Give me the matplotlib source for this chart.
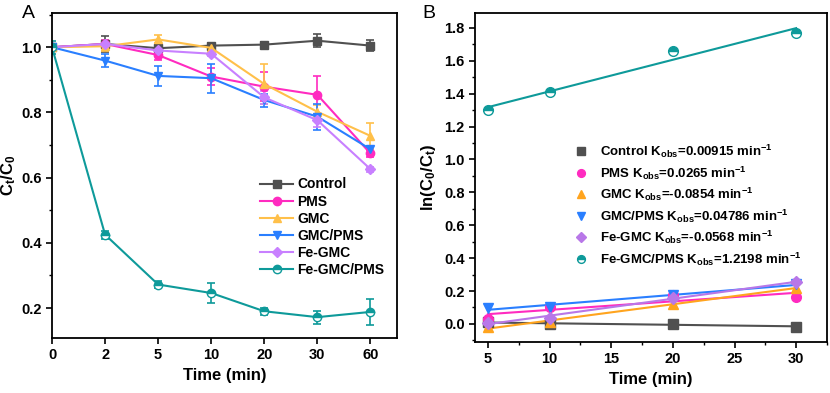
import numpy as np
import matplotlib
matplotlib.use('Agg')
import matplotlib.pyplot as plt
from matplotlib.ticker import MultipleLocator

plt.rcParams['font.family'] = ['Liberation Sans', 'DejaVu Sans']
plt.rcParams['font.weight'] = 'bold'
plt.rcParams['mathtext.fontset'] = 'custom'
plt.rcParams['mathtext.rm'] = 'Liberation Sans:bold'
plt.rcParams['mathtext.it'] = 'Liberation Sans:bold'
plt.rcParams['mathtext.bf'] = 'Liberation Sans:bold'

# ---- panel A data ----
time_labels = ['0', '2', '5', '10', '20', '30', '60']
names = ['Control', 'PMS', 'GMC', 'GMC/PMS', 'Fe-GMC', 'Fe-GMC/PMS']
control = [1.0, 1.010, 0.997, 1.005, 1.008, 1.020, 1.005]
control_err = [0.0, 0.025, 0.012, 0.008, 0.008, 0.020, 0.018]
pms = [1.0, 1.010, 0.976, 0.910, 0.879, 0.854, 0.674]
pms_err = [0.0, 0.012, 0.015, 0.025, 0.045, 0.058, 0.010]
gmc = [1.0, 1.003, 1.024, 0.998, 0.887, 0.802, 0.728]
gmc_err = [0.0, 0.015, 0.012, 0.008, 0.062, 0.020, 0.040]
gmc_pms = [1.0, 0.959, 0.912, 0.905, 0.838, 0.787, 0.687]
gmc_pms_err = [0.0, 0.020, 0.030, 0.045, 0.020, 0.040, 0.010]
fe_gmc = [1.0, 1.010, 0.990, 0.980, 0.846, 0.776, 0.626]
fe_gmc_err = [0.0, 0.010, 0.010, 0.008, 0.020, 0.020, 0.008]
fe_gmc_pms = [1.0, 0.425, 0.272, 0.246, 0.190, 0.172, 0.188]
fe_gmc_pms_err = [0.02, 0.012, 0.010, 0.030, 0.010, 0.020, 0.040]

# ---- panel B data ----
t_fit = [5, 10, 20, 30]
b_control = [0.010, 0.000, -0.002, -0.016]
b_pms = [0.028, 0.105, 0.176, 0.162]
b_gmc = [-0.020, 0.010, 0.120, 0.220]
b_gmc_pms = [0.095, 0.105, 0.175, 0.240]
b_fe_gmc = [0.008, 0.035, 0.160, 0.255]
b_fe_gmc_pms = [1.300, 1.408, 1.661, 1.766]
kobs = ['0.00915', '0.0265', '-0.0854', '0.04786', '-0.0568', '1.2198']

colors_a = ['#505050', '#FF2BC0', '#FFC04A', '#2A7FFF', '#C880FF', '#0E9A9A']
colors_b = ['#505050', '#FF2BC0', '#FFA41E', '#2A7FFF', '#B877E8', '#0E9A9A']
markers = ['s', 'o', '^', 'v', 'D', 'o']

fig = plt.figure(figsize=(8.3, 3.93), dpi=100)
axA = fig.add_axes([52/830, 55/393, 345/830, 325/393])
axB = fig.add_axes([475/830, 51/393, 352/830, 329/393])

seriesA = [control, pms, gmc, gmc_pms, fe_gmc, fe_gmc_pms]
errsA = [control_err, pms_err, gmc_err, gmc_pms_err, fe_gmc_err, fe_gmc_pms_err]
x = np.arange(len(time_labels))
handlesA = []
for i in range(6):
    kw = {}
    if i == 5:
        kw = dict(fillstyle='top', markerfacecoloralt='white')
    ms = 5 if markers[i] == 'D' else 6
    eb = axA.errorbar(x, seriesA[i], yerr=errsA[i], color=colors_a[i], marker=markers[i],
                      ms=ms, lw=1.5, capsize=3, elinewidth=1.2, capthick=1.2,
                      label=names[i], **kw)
    handlesA.append(eb.lines[0])

axA.set_xlim(0, 6.5)
axA.set_ylim(0.108, 1.105)
axA.set_xticks(x)
axA.set_xticklabels(time_labels)
axA.yaxis.set_major_locator(MultipleLocator(0.2))
axA.yaxis.set_minor_locator(MultipleLocator(0.1))
axA.set_xlabel('Time (min)', fontsize=12, fontweight='bold')
axA.set_ylabel('C$_t$/C$_0$', fontsize=12, fontweight='bold', labelpad=2)
axA.legend(handlesA, names, loc='lower right', bbox_to_anchor=(1.0, 0.15), frameon=False,
           fontsize=10, handlelength=2.4, handletextpad=0.3, labelspacing=0.22)
axA.text(-0.088, 1.025, 'A', transform=axA.transAxes, fontsize=14, fontweight='normal',
         va='top')

seriesB = [b_control, b_pms, b_gmc, b_gmc_pms, b_fe_gmc, b_fe_gmc_pms]
tt = np.array(t_fit, dtype=float)
for i in range(6):
    p = np.polyfit(tt, seriesB[i], 1)
    axB.plot(tt, np.polyval(p, tt), color=colors_b[i], lw=1.5)
for i in range(6):
    kw = {}
    if i == 5:
        kw = dict(fillstyle='top', markerfacecoloralt='white')
    ms = 6 if markers[i] == 'D' else 7
    axB.plot(tt, seriesB[i], ls='none', color=colors_b[i], marker=markers[i], ms=ms,
             label=names[i] + ' K$_{obs}$=' + kobs[i] + ' min$^{-1}$', **kw)

axB.set_xlim(3.95, 32.5)
axB.set_ylim(-0.11, 1.89)
axB.xaxis.set_major_locator(MultipleLocator(5))
axB.xaxis.set_minor_locator(MultipleLocator(2.5))
axB.yaxis.set_major_locator(MultipleLocator(0.2))
axB.yaxis.set_minor_locator(MultipleLocator(0.1))
axB.set_xlabel('Time (min)', fontsize=12, fontweight='bold')
axB.set_ylabel('ln(C$_0$/C$_t$)', fontsize=12, fontweight='bold')
axB.legend(loc='lower left', bbox_to_anchor=(0.23, 0.19), frameon=False,
           fontsize=9.5, handletextpad=0.4, labelspacing=0.32, markerscale=0.8)
axB.text(-0.15, 1.025, 'B', transform=axB.transAxes, fontsize=14, fontweight='normal',
         va='top')

for ax in (axA, axB):
    for s in ax.spines.values():
        s.set_linewidth(1.3)
    ax.tick_params(which='major', direction='out', length=4, width=1.2, labelsize=10.5)
    ax.tick_params(which='minor', direction='out', length=2.5, width=1.0)

fig.savefig('out.png', dpi=100)
